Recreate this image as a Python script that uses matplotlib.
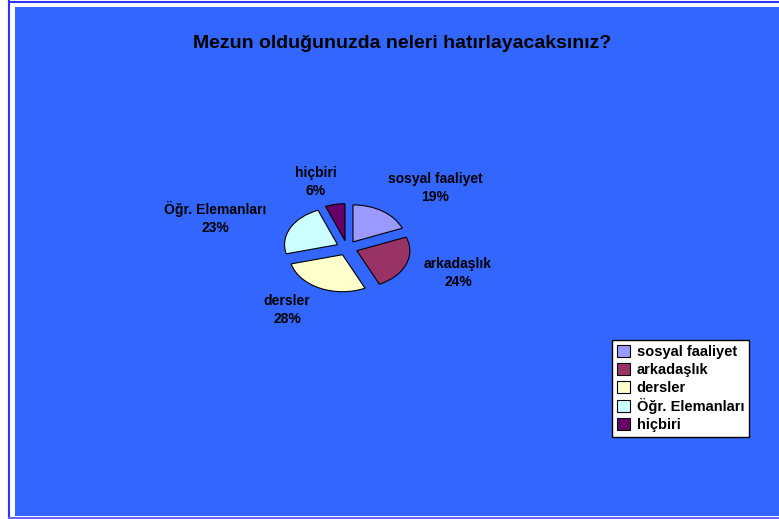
import numpy as np
import matplotlib
matplotlib.use("Agg")
import matplotlib.pyplot as plt
from matplotlib.patches import Patch, Rectangle
from matplotlib.lines import Line2D

# veriler
kategoriler = ["sosyal faaliyet", "arkadaşlık", "dersler", "Öğr. Elemanları", "hiçbiri"]
yuzdeler = [19, 24, 28, 23, 6]
renkler = ["#9999FF", "#993366", "#FFFFCC", "#CCFFFF", "#660066"]
baslik = "Mezun olduğunuzda neleri hatırlayacaksınız?"

plt.rcParams["font.family"] = ["Liberation Sans", "DejaVu Sans"]
W, H = 779, 519
fig = plt.figure(figsize=(W / 100, H / 100), dpi=100, facecolor="white")

# arka plan ve çerçeve çizgileri
fig.patches.append(Rectangle((15 / W, 1 - 516 / H), (W - 15) / W, (516 - 7) / H,
                             transform=fig.transFigure, facecolor="#3366FF",
                             edgecolor="none", zorder=-5))
fig.lines.append(Line2D([8.5 / W, 8.5 / W], [0, 1 - 1 / H], transform=fig.transFigure,
                        color="#3333FF", lw=1.5, zorder=-4))
fig.lines.append(Line2D([8.5 / W, 1], [1 - 1.5 / H, 1 - 1.5 / H], transform=fig.transFigure,
                        color="#3333FF", lw=1.5, zorder=-4))
fig.lines.append(Line2D([8.5 / W, 1], [1 - 518 / H, 1 - 518 / H], transform=fig.transFigure,
                        color="#6666FF", lw=1.5, zorder=-4))

fig.text(402 / W, 1 - 44 / H, baslik, ha="center", va="center",
         fontsize=14, fontweight="bold", color="black")

# pasta (yassı görünüm için eksen oranı serbest)
cx, cy, sx, sy = 347, 248, 53, 37
ax = fig.add_axes([(cx - 1.5 * sx) / W, (H - cy - 1.5 * sy) / H, 3 * sx / W, 3 * sy / H])
ax.pie(yuzdeler, colors=renkler, startangle=90, counterclock=False,
       explode=[0.2] * len(yuzdeler),
       wedgeprops=dict(edgecolor="black", linewidth=0.8))
ax.set_aspect("auto")
ax.set_xlim(-1.5, 1.5)
ax.set_ylim(-1.5, 1.5)
ax.axis("off")

# etiket yerleri (piksel farkı olarak, pasta merkezine göre)
etiket_dxy = [(88, 60), (111, -25), (-60, -62), (-132, 30), (-31, 66)]
for (dx, dy), k, v in zip(etiket_dxy, kategoriler, yuzdeler):
    ax.text(dx / sx, dy / sy, f"{k}\n{v}%", ha="center", va="center", fontsize=10,
            fontweight="bold", linespacing=1.4)

tutamaclar = [Patch(facecolor=r, edgecolor="black", linewidth=0.8) for r in renkler]
leg = fig.legend(tutamaclar, kategoriler, loc="upper left",
                 bbox_to_anchor=(612 / W, 1 - 340 / H), borderaxespad=0,
                 frameon=True, fancybox=False,
                 framealpha=1, edgecolor="black", borderpad=0.35,
                 handlelength=0.9, handleheight=0.9, handletextpad=0.45,
                 labelspacing=0.25, prop=dict(size=10.5, weight="bold"))
leg.get_frame().set_linewidth(1.0)

fig.savefig("out.png", dpi=100, facecolor="white")
